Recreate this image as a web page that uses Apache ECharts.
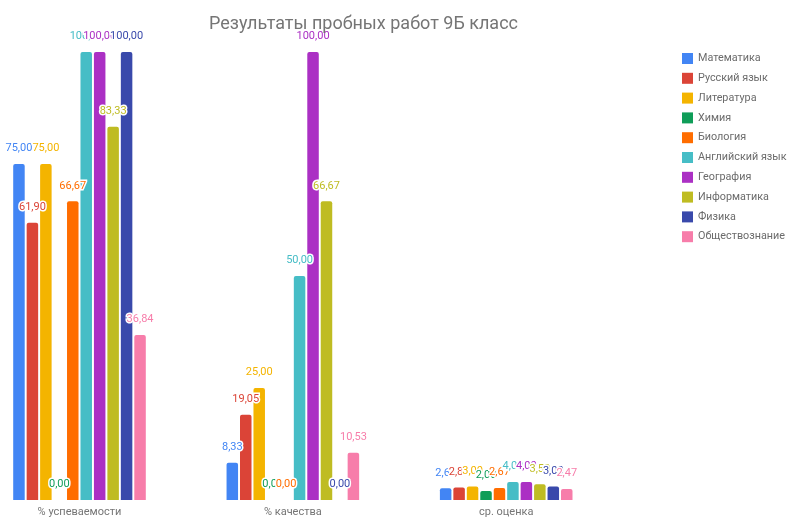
<!DOCTYPE html>
<html>
<head>
<meta charset="utf-8">
<script src="https://cdn.jsdelivr.net/npm/echarts@6/dist/echarts.min.js"></script>
<style>
html,body{margin:0;padding:0;background:#fff;}
#chart{width:788px;height:518px;}
</style>
</head>
<body>
<div id="chart"></div>
<script>
const categories = ['% успеваемости', '% качества', 'ср. оценка'];
const subjects = ['Математика', 'Русский язык', 'Литература', 'Химия', 'Биология', 'Английский язык', 'География', 'Информатика', 'Физика', 'Обществознание'];
const colors = ['#4285F4', '#DB4437', '#F4B400', '#0F9D58', '#FF6D00', '#46BDC6', '#AB30C4', '#BFBC22', '#3949AB', '#F77DAA'];
const mathematics = [75.00, 8.33, 2.62];
const russian = [61.90, 19.05, 2.81];
const literature = [75.00, 25.00, 3.00];
const chemistry = [0.00, 0.00, 2.00];
const biology = [66.67, 0.00, 2.67];
const english = [100.00, 50.00, 4.00];
const geography = [100.00, 100.00, 4.00];
const informatics = [83.33, 66.67, 3.50];
const physics = [100.00, 0.00, 3.00];
const socialStudies = [36.84, 10.53, 2.47];
const seriesValues = [mathematics, russian, literature, chemistry, biology, english, geography, informatics, physics, socialStudies];

const chart = echarts.init(document.getElementById('chart'));
const fontFamily = 'Roboto, sans-serif';
chart.setOption({
  animation: false,
  color: colors,
  title: {
    text: 'Результаты пробных работ 9Б класс',
    left: 204,
    top: 10,
    textStyle: { fontFamily, fontSize: 18, fontWeight: 'normal', color: '#757575' }
  },
  legend: {
    orient: 'vertical',
    left: 677,
    top: 48,
    itemWidth: 11,
    itemHeight: 11,
    itemGap: 8.8,
    icon: 'rect',
    textStyle: { fontFamily, fontSize: 10.8, color: '#6b6b6b' },
    data: subjects
  },
  grid: { left: 79.5, width: 426.7, top: 52, bottom: 14, containLabel: false },
  xAxis: {
    type: 'category',
    data: categories,
    boundaryGap: false,
    axisLine: { show: false },
    axisTick: { show: false },
    axisLabel: { fontFamily, fontSize: 11, color: '#757575', margin: 7 }
  },
  yAxis: {
    type: 'value', min: 0, max: 100,
    show: false,
    splitLine: { show: false }
  },
  series: subjects.map((name, i) => ({
    name,
    type: 'bar',
    data: seriesValues[i],
    barWidth: 11.5,
    barGap: '17%',
    clip: false,
    itemStyle: { borderRadius: [2, 2, 0, 0] },
    label: {
      show: true,
      position: 'top',
      distance: 10,
      fontFamily,
      fontSize: 11,
      color: colors[i],
      textBorderColor: '#fff',
      textBorderWidth: 3,
      formatter: p => p.value.toFixed(2).replace('.', ',')
    }
  }))
});
</script>
</body>
</html>
